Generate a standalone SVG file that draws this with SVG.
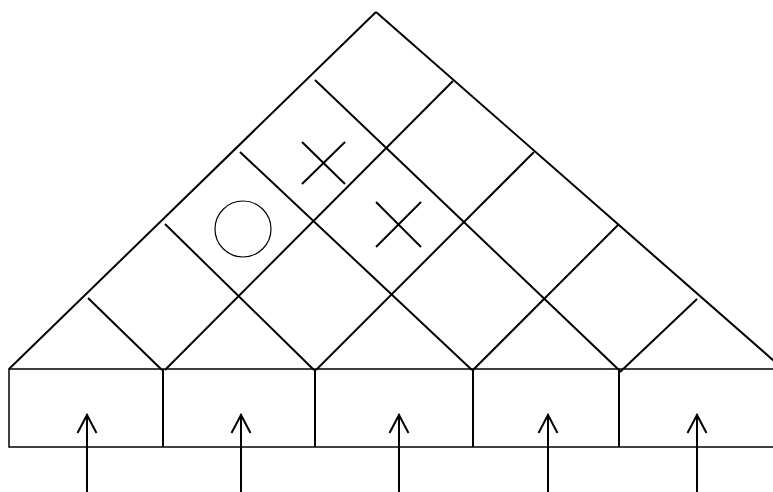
<svg xmlns="http://www.w3.org/2000/svg" width="773" height="492" viewBox="0 0 773 492">
  <style>
    .ln { stroke: #000; stroke-width: 2; fill: none; stroke-linecap: butt; }
    .thin { stroke: #000; stroke-width: 1.5; fill: none; }
    .mark { stroke: #000; stroke-width: 2; fill: none; }
    .circ { stroke: #000; stroke-width: 1.2; fill: none; }
  </style>
  <rect x="0" y="0" width="773" height="492" fill="#fff"/>
  <g id="grid">
    <line class="ln" x1="9" y1="369" x2="376" y2="12"/>
    <line class="ln" x1="376" y1="12" x2="790" y2="375"/>
    <line class="ln" x1="165" y1="370" x2="453" y2="81"/>
    <line class="ln" x1="316" y1="370" x2="534" y2="152"/>
    <line class="ln" x1="473" y1="370" x2="618" y2="225"/>
    <line class="ln" x1="620" y1="372" x2="697" y2="299"/>
    <line class="ln" x1="88" y1="298" x2="162" y2="370"/>
    <line class="ln" x1="165" y1="224" x2="314" y2="370"/>
    <line class="ln" x1="240" y1="152" x2="472" y2="370"/>
    <line class="ln" x1="315" y1="80" x2="619" y2="370"/>
  </g>
  <g id="circle-mark">
    <circle class="circ" cx="243" cy="229" r="28"/>
  </g>
  <g id="cross-mark-1">
    <line class="mark" x1="302" y1="142" x2="345" y2="184"/>
    <line class="mark" x1="302" y1="184" x2="345" y2="142"/>
  </g>
  <g id="cross-mark-2">
    <line class="mark" x1="376" y1="202" x2="421" y2="247"/>
    <line class="mark" x1="376" y1="247" x2="421" y2="202"/>
  </g>
  <g id="boxes">
    <rect class="thin" x="9" y="369" width="790" height="78"/>
    <line class="ln" x1="163" y1="369" x2="163" y2="447"/>
    <line class="ln" x1="315" y1="369" x2="315" y2="447"/>
    <line class="ln" x1="473" y1="369" x2="473" y2="447"/>
    <line class="ln" x1="619" y1="369" x2="619" y2="447"/>
  </g>
  <g id="connectors">
    <path class="ln" d="M87 492V415M77.5 433L87 415L96.5 433"/>
    <path class="ln" d="M241 492V415M231.5 433L241 415L250.5 433"/>
    <path class="ln" d="M399 492V415M389.5 433L399 415L408.5 433"/>
    <path class="ln" d="M548 492V415M538.5 433L548 415L557.5 433"/>
    <path class="ln" d="M697 492V415M687.5 433L697 415L706.5 433"/>
  </g>
</svg>
